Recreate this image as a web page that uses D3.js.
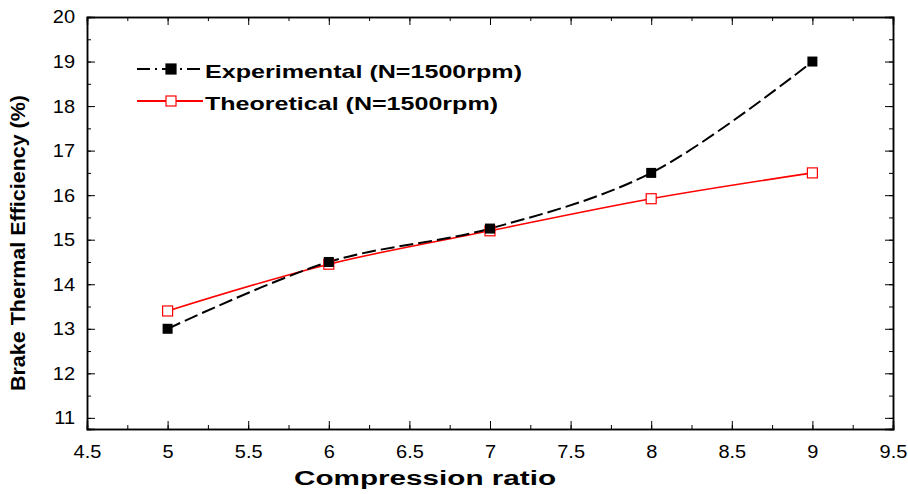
<!DOCTYPE html>
<html>
<head>
<meta charset="utf-8">
<script src="https://cdn.jsdelivr.net/npm/d3@7"></script>
<style>
  body { margin: 0; background: #fff; }
  text { font-family: "Liberation Sans", Arial, sans-serif; }
</style>
</head>
<body>
<div id="chart"></div>
<script>
// data
const ratios = [5, 6, 7, 8, 9];
const experimental = [13.0, 14.5, 15.25, 16.5, 19.0];
const theoretical = [13.4, 14.45, 15.2, 15.92, 16.5];
const xTicks = [4.5, 5, 5.5, 6, 6.5, 7, 7.5, 8, 8.5, 9, 9.5];
const yTicks = [11, 12, 13, 14, 15, 16, 17, 18, 19, 20];
const legendLabels = ["Experimental (N=1500rpm)", "Theoretical (N=1500rpm)"];

const width = 908, height = 494;
const margin = { t: 17, l: 87, r: 15, b: 65 };

const svg = d3.select("#chart").append("svg")
  .attr("width", width)
  .attr("height", height);

const x = d3.scaleLinear().domain([4.5, 9.5]).range([margin.l, width - margin.r]);
const y = d3.scaleLinear().domain([10.75, 20]).range([height - margin.b, margin.t]);

const x0 = x.range()[0], x1 = x.range()[1];
const y0 = y.range()[0], y1 = y.range()[1];

// axes: ticks inward on all four sides
const minorX = d3.range(4.5, 9.51, 0.25);
const minorY = d3.range(11, 20.01, 0.5);

function axisGroup(axis, tr) {
  const g = svg.append("g").attr("transform", tr).call(axis);
  g.select(".domain").attr("stroke", "#000").attr("stroke-width", 1.5);
  g.selectAll(".tick line").attr("stroke", "#000").attr("stroke-width", 1);
  return g;
}

// minor ticks
axisGroup(d3.axisBottom(x).tickValues(minorX).tickSize(-4).tickFormat(""), `translate(0,${y0})`);
axisGroup(d3.axisTop(x).tickValues(minorX).tickSize(-4).tickFormat(""), `translate(0,${y1})`);
axisGroup(d3.axisLeft(y).tickValues(minorY).tickSize(-4).tickFormat(""), `translate(${x0},0)`);
axisGroup(d3.axisRight(y).tickValues(minorY).tickSize(-4).tickFormat(""), `translate(${x1},0)`);

// major ticks
const sx = 1.08; // the reference text is a bit wide
const xb = axisGroup(d3.axisBottom(x).tickValues(xTicks).tickSize(-8).tickPadding(16).tickFormat(d3.format("")), `translate(0,${y0})`);
axisGroup(d3.axisTop(x).tickValues(xTicks).tickSize(-8).tickFormat(""), `translate(0,${y1})`);
const yl = axisGroup(d3.axisLeft(y).tickValues(yTicks).tickSize(-8).tickPadding(12).tickFormat(d3.format("d")), `translate(${x0},0)`);
axisGroup(d3.axisRight(y).tickValues(yTicks).tickSize(-8).tickFormat(""), `translate(${x1},0)`);

xb.selectAll("text")
  .attr("font-size", 18.5).attr("fill", "#000")
  .attr("transform", `scale(${sx},1)`);
yl.selectAll("text")
  .attr("font-size", 18.5).attr("fill", "#000")
  .attr("x", -12 / sx)
  .attr("transform", `scale(${sx},1)`);

// axis titles
svg.append("text")
  .attr("x", 425).attr("y", 485)
  .attr("text-anchor", "middle")
  .attr("font-size", 20).attr("font-weight", "bold")
  .attr("textLength", 262).attr("lengthAdjust", "spacingAndGlyphs")
  .text("Compression ratio");

svg.append("text")
  .attr("transform", "translate(25,243) rotate(-90)")
  .attr("text-anchor", "middle")
  .attr("font-size", 21).attr("font-weight", "bold")
  .attr("textLength", 296).attr("lengthAdjust", "spacingAndGlyphs")
  .text("Brake Thermal Efficiency (%)");

// curves
const line = d3.line()
  .x(d => x(d[0]))
  .y(d => y(d[1]))
  .curve(d3.curveCatmullRom);

const expPts = ratios.map((r, i) => [r, experimental[i]]);
const thPts = ratios.map((r, i) => [r, theoretical[i]]);

svg.append("path")
  .datum(thPts)
  .attr("d", line)
  .attr("fill", "none")
  .attr("stroke", "#ff0000")
  .attr("stroke-width", 1.6);

svg.append("path")
  .datum(expPts)
  .attr("d", line)
  .attr("fill", "none")
  .attr("stroke", "#000")
  .attr("stroke-width", 2)
  .attr("stroke-dasharray", "14,5");

const ms = 10;
svg.append("g").selectAll("rect")
  .data(thPts)
  .enter().append("rect")
  .attr("x", d => x(d[0]) - ms / 2)
  .attr("y", d => y(d[1]) - ms / 2)
  .attr("width", ms).attr("height", ms)
  .attr("fill", "#fff").attr("stroke", "#ff0000").attr("stroke-width", 1.2);

svg.append("g").selectAll("rect")
  .data(expPts)
  .enter().append("rect")
  .attr("x", d => x(d[0]) - ms / 2)
  .attr("y", d => y(d[1]) - ms / 2)
  .attr("width", ms).attr("height", ms)
  .attr("fill", "#000");

// legend
const leg = svg.append("g").attr("transform", "translate(137,69)");
const legStyles = [
  { stroke: "#000", dash: "13,5,2,5", fill: "#000", len: 317 },
  { stroke: "#ff0000", dash: null, fill: "#fff", len: 293 }
];
legendLabels.forEach((lab, i) => {
  const g = leg.append("g").attr("transform", `translate(0,${i * 32})`);
  g.append("line")
    .attr("x1", 0).attr("x2", 66).attr("y1", 0).attr("y2", 0)
    .attr("stroke", legStyles[i].stroke).attr("stroke-width", 1.8)
    .attr("stroke-dasharray", legStyles[i].dash);
  g.append("rect")
    .attr("x", 34 - ms / 2).attr("y", -ms / 2).attr("width", ms).attr("height", ms)
    .attr("fill", legStyles[i].fill).attr("stroke", legStyles[i].stroke).attr("stroke-width", 1.2);
  g.append("text")
    .attr("x", 68).attr("y", 9)
    .attr("font-size", 19).attr("font-weight", "bold")
    .attr("textLength", legStyles[i].len).attr("lengthAdjust", "spacingAndGlyphs")
    .text(lab);
});
</script>
</body>
</html>
